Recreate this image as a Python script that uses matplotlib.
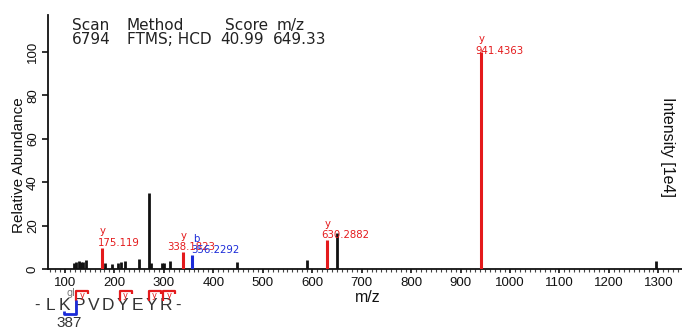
import matplotlib
matplotlib.use("Agg")
import matplotlib.pyplot as plt
from matplotlib.lines import Line2D
from matplotlib.ticker import MultipleLocator

# ---------------- data ----------------
black_mz = [118, 122, 129, 133, 137, 142, 182, 195, 207, 213, 221, 250, 271, 275,
            296, 300, 313, 447, 590, 649.5, 1296]
black_int = [2.8, 3.2, 3.8, 3.0, 3.4, 4.2, 2.6, 2.4, 2.6, 3.4, 3.6, 4.6, 35.0, 2.6,
             2.6, 2.6, 3.6, 3.2, 4.0, 16.8, 3.6]

y_mz = [175.119, 338.1823, 630.2882, 941.4363]
y_int = [9.8, 7.7, 13.3, 100.0]
y_labels = ["175.119", "338.1823", "630.2882", "941.4363"]

b_mz = [356.2292]
b_int = [6.4]
b_labels = ["356.2292"]

x_ticks = list(range(100, 1301, 100))
y_ticks = [0, 20, 40, 60, 80, 100]

header_row1 = ["Scan", "Method", "Score", "m/z"]
header_row2 = ["6794", "FTMS; HCD", "40.99", "649.33"]

peptide = list("LKPVDYEYR")
y_sites = [1, 4, 6, 7]      # cleavage after residue index (y ions)
b_sites = [1]               # cleavage after residue index (b ions)
mod_index = 1               # modified residue (K)
mod_label = "gl"
site_label = "387"

# ---------------- style ----------------
W, H = 682, 330
RED = "#e41a1c"
BLUE = "#1b2bd8"
BLACK = "#111111"
TXT = "#222222"

fig = plt.figure(figsize=(W / 100, H / 100), dpi=100)


def fx(x):
    return x / W


def fy(y):
    return 1 - y / H


ax = fig.add_axes([fx(48), fy(269), 1 - fx(48), (269 - 15) / H])
ax.set_xlim(65.8, 1347.7)
ax.set_ylim(0, 117)

ax.vlines(black_mz, 0, black_int, colors=BLACK, lw=2.0, zorder=3)
ax.vlines(y_mz, 0, y_int, colors=RED, lw=2.2, zorder=3)
ax.vlines(b_mz, 0, b_int, colors=BLUE, lw=2.2, zorder=3)

# peak annotations: (number dx px, number dy px, ion-letter dx px)
y_offsets = [(-4, 2, 1), (-16, 2, 1), (-6, 2, 1), (-6, -2, 1)]
b_offsets = [(0, 2, 5)]
ann_font = dict(family="DejaVu Sans", fontsize=7.3)
for mz, h, lab, (dx, dy, ldx) in zip(y_mz, y_int, y_labels, y_offsets):
    ax.annotate(lab, xy=(mz, h), xytext=(dx * 0.72, dy * 0.72),
                textcoords="offset points", ha="left", va="baseline",
                color=RED, zorder=4, **ann_font)
    ax.annotate("y", xy=(mz, h), xytext=(ldx * 0.72, (dy + 11.5) * 0.72),
                textcoords="offset points", ha="center", va="baseline",
                color=RED, zorder=4, **ann_font)
for mz, h, lab, (dx, dy, ldx) in zip(b_mz, b_int, b_labels, b_offsets):
    ax.annotate(lab, xy=(mz, h), xytext=(dx * 0.72, dy * 0.72),
                textcoords="offset points", ha="left", va="baseline",
                color=BLUE, zorder=4, **ann_font)
    ax.annotate("b", xy=(mz, h), xytext=(ldx * 0.72, (dy + 11.5) * 0.72),
                textcoords="offset points", ha="center", va="baseline",
                color=BLUE, zorder=4, **ann_font)

# axes styling
for s in ["top", "right"]:
    ax.spines[s].set_visible(False)
ax.spines["left"].set_linewidth(1.3)
ax.spines["bottom"].set_linewidth(1.3)
ax.spines["left"].set_color(BLACK)
ax.spines["bottom"].set_color(BLACK)

ax.set_xticks(x_ticks)
ax.set_xticklabels([str(t) for t in x_ticks])
ax.xaxis.set_minor_locator(MultipleLocator(10))
ax.set_yticks(y_ticks)
ax.set_yticklabels([str(t) for t in y_ticks])

tick_font = "Liberation Sans"
ax.tick_params(axis="x", which="major", direction="out", length=3, width=1.2,
               pad=3, labelsize=9.5, colors=BLACK)
ax.tick_params(axis="x", which="minor", direction="out", length=1.8, width=0.8,
               color="#444444")
ax.tick_params(axis="y", which="major", direction="out", length=4, width=1.2,
               pad=2.5, labelsize=9.5, colors=BLACK, labelrotation=90)
for lab in ax.get_xticklabels() + ax.get_yticklabels():
    lab.set_fontfamily(tick_font)
for lab in ax.get_yticklabels():
    lab.set_va("center")

# axis labels (figure pixel positions)
fig.text(fx(368), fy(297), "m/z", family=tick_font, fontsize=11.5,
         ha="center", va="center", color=BLACK)
fig.text(fx(19), fy(165), "Relative Abundance", family=tick_font, fontsize=11,
         rotation=90, ha="center", va="center", color=BLACK)
fig.text(fx(668), fy(147), "Intensity [1e4]", family=tick_font, fontsize=11.5,
         rotation=270, ha="center", va="center", color=BLACK)

# header
row1_x = [71.7, 126.7, 225, 276.7]
row2_x = [71.7, 126.7, 220, 273.3]
for t, x in zip(header_row1, row1_x):
    fig.text(fx(x), fy(30), t, family="DejaVu Sans", fontsize=11,
             ha="left", va="baseline", color=TXT)
for t, x in zip(header_row2, row2_x):
    fig.text(fx(x), fy(44.3), t, family="DejaVu Sans", fontsize=11,
             ha="left", va="baseline", color=TXT)

# peptide sequence with fragment markers
x0, step, base_y = 50, 14.5, 310
fig.text(fx(x0 - step * 0.9), fy(base_y), "-", family=tick_font, fontsize=12,
         ha="center", va="baseline", color="#333333")
fig.text(fx(x0 + step * (len(peptide) - 1) + step * 0.85), fy(base_y), "-",
         family=tick_font, fontsize=12, ha="center", va="baseline",
         color="#333333")
for i, aa in enumerate(peptide):
    fig.text(fx(x0 + step * i), fy(base_y), aa, family=tick_font, fontsize=12.5,
             ha="center", va="baseline", color="#333333")

# modification label (behind the brackets)
mx = x0 + step * mod_index
fig.text(fx(mx + 6), fy(293), mod_label, family="DejaVu Sans", fontsize=7,
         ha="center", va="center", color="#777777", zorder=1)
fig.text(fx(mx + 5), fy(323), site_label, family=tick_font, fontsize=11,
         ha="center", va="center", color="#333333")


def fline(xs, ys, color, lw=1.6):
    fig.add_artist(Line2D([fx(v) for v in xs], [fy(v) for v in ys],
                          transform=fig.transFigure, color=color, lw=lw,
                          solid_capstyle="butt", zorder=5))


for k in y_sites:
    bx = x0 + step * k + 11.5
    fline([bx, bx, bx + 12, bx + 12], [301, 291, 291, 294], RED)
    fig.text(fx(bx + 6), fy(295.5), "y", family="DejaVu Sans", fontsize=6,
             ha="center", va="center", color=RED, zorder=6)

for k in b_sites:
    bx = x0 + step * k + 11.5
    fline([bx, bx, bx - 12, bx - 12], [300, 314, 314, 311], BLUE, lw=2.0)

fig.savefig("out.png", dpi=100)
